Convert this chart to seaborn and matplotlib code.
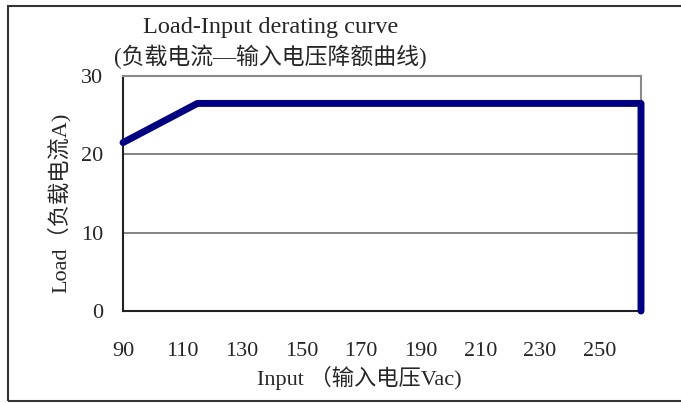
import numpy as np
import pandas as pd
import matplotlib
matplotlib.use("Agg")
import matplotlib.pyplot as plt
import seaborn as sns
from matplotlib.patches import Rectangle

# data
input_vac = [90, 115, 264, 264]
load_a = [21.5, 26.5, 26.5, 0]
x_ticks = [90, 110, 130, 150, 170, 190, 210, 230, 250]
y_ticks = [0, 10, 20, 30]

title_l1 = "Load-Input derating curve"
title_l2 = "(负载电流—输入电压降额曲线)"
xlabel_txt = "Input （输入电压Vac)"
ylabel_txt = "Load（负载电流A)"

sns.set_style("white")
fonts = ["Liberation Serif", "Noto Sans CJK SC"]
plt.rcParams["font.family"] = fonts

df = pd.DataFrame({"input": input_vac, "load": load_a})

fig = plt.figure(figsize=(6.81, 4.03), dpi=100)
ax = fig.add_axes([123 / 681, 92 / 403, 518 / 681, 235 / 403])

sns.lineplot(data=df, x="input", y="load", sort=False, estimator=None,
             color="#000080", linewidth=5, ax=ax, clip_on=False,
             solid_capstyle="round", zorder=5)

ax.set_xlim(90, 264)
ax.set_ylim(0, 30)
ax.set_xticks(x_ticks)
ax.set_yticks(y_ticks)
ax.tick_params(axis="x", direction="in", length=5, width=1, color="#555555",
               pad=22, labelsize=16)
ax.tick_params(axis="y", length=0, pad=14, labelsize=16)

for y in [10, 20]:
    ax.axhline(y, color="#707070", linewidth=1.2, zorder=1)

for s in ["top", "right"]:
    ax.spines[s].set_color("#8a8a8a")
    ax.spines[s].set_linewidth(1.5)
for s in ["left", "bottom"]:
    ax.spines[s].set_color("#222222")
    ax.spines[s].set_linewidth(1.5)

ax.set_xlabel(xlabel_txt, fontsize=16)
ax.set_ylabel(ylabel_txt, fontsize=16)
ax.xaxis.set_label_coords(0.456, -0.235)
ax.yaxis.set_label_coords(-0.10, 0.46)

fig.text(271 / 681, 1 - 28 / 403, title_l1, ha="center", va="center",
         fontsize=17.5)
fig.text(270 / 681, 1 - 57 / 403, title_l2, ha="center", va="center",
         fontsize=16.5)

# outer frame
fig.patches.append(Rectangle((8 / 681, 2 / 403), 1.0, 395 / 403,
                             transform=fig.transFigure, fill=False,
                             edgecolor="#333333", linewidth=1.5))

plt.savefig("out.png", dpi=100)
